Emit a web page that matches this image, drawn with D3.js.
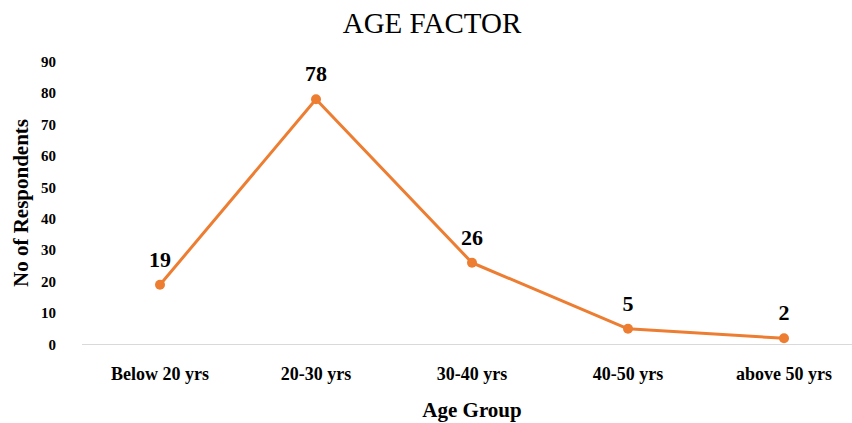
<!DOCTYPE html>
<html><head><meta charset="utf-8">
<script src="https://cdn.jsdelivr.net/npm/d3@7"></script>
<style>body{margin:0;background:#fff}svg{display:block}</style>
</head><body>
<script>
const categories = ["Below 20 yrs","20-30 yrs","30-40 yrs","40-50 yrs","above 50 yrs"];
const values = [19,78,26,5,2];
const yTicks = [0,10,20,30,40,50,60,70,80,90];
const title = "AGE FACTOR";
const xTitle = "Age Group";
const yTitle = "No of Respondents";

const W=852,H=423;
const svg=d3.select("body").append("svg").attr("width",W).attr("height",H);
const font="'Liberation Serif','Times New Roman',serif";
const x=d3.scaleBand().domain(categories).range([82,862]);
const y=d3.scaleLinear().domain([0,90]).range([344.5,61.5]);

svg.append("text").attr("x",432).attr("y",33).attr("text-anchor","middle")
  .attr("font-family",font).attr("font-size",29).attr("fill","#000").text(title);

svg.append("line").attr("x1",82).attr("x2",W).attr("y1",y(0)).attr("y2",y(0))
  .attr("stroke","#d9d9d9").attr("stroke-width",1.2);

const yAxis=d3.axisLeft(y).tickValues(yTicks).tickSize(0).tickPadding(0);
const gy=svg.append("g").attr("transform","translate(56,0)").call(yAxis);
gy.select(".domain").remove();
gy.selectAll("text").attr("font-family",font).attr("font-size",15).attr("font-weight","bold").attr("fill","#000");

const xAxis=d3.axisBottom(x).tickSize(0).tickPadding(0);
const gx=svg.append("g").attr("transform","translate(0,367)").call(xAxis);
gx.select(".domain").remove();
gx.selectAll("text").attr("font-family",font).attr("font-size",18).attr("font-weight","bold").attr("fill","#000");

svg.append("text").attr("x",472).attr("y",417).attr("text-anchor","middle")
  .attr("font-family",font).attr("font-size",21).attr("font-weight","bold").text(xTitle);
svg.append("text").attr("transform","translate(27.5,203) rotate(-90)").attr("text-anchor","middle")
  .attr("font-family",font).attr("font-size",21).attr("font-weight","bold").text(yTitle);

const cx=d=>x(d)+x.bandwidth()/2;
const line=d3.line().x((d,i)=>cx(categories[i])).y(d=>y(d));
svg.append("path").datum(values).attr("d",line).attr("fill","none")
  .attr("stroke","#ED7D31").attr("stroke-width",3).attr("stroke-linejoin","round");
svg.selectAll("circle.pt").data(values).enter().append("circle")
  .attr("cx",(d,i)=>cx(categories[i])).attr("cy",d=>y(d)).attr("r",5).attr("fill","#ED7D31");
svg.selectAll("text.lbl").data(values).enter().append("text")
  .attr("x",(d,i)=>cx(categories[i])).attr("y",d=>y(d)-18).attr("text-anchor","middle")
  .attr("font-family",font).attr("font-size",22).attr("font-weight","bold").text(d=>d);
</script>
</body></html>
